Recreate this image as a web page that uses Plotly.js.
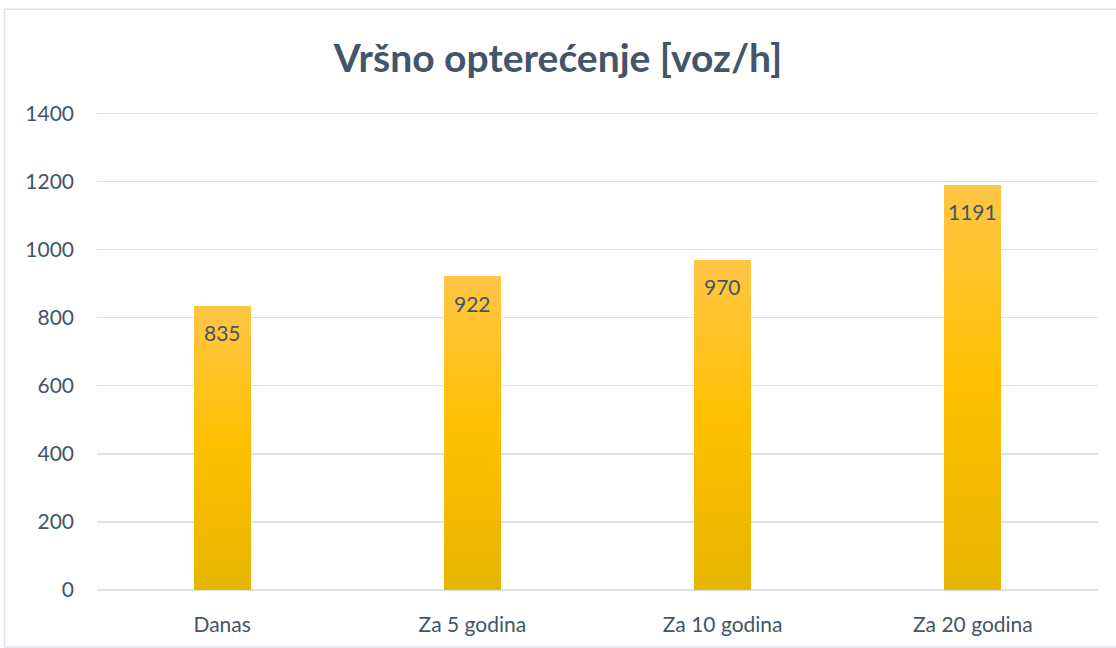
<!DOCTYPE html>
<html>
<head>
<meta charset="utf-8">
<script src="https://cdn.plot.ly/plotly-3.0.1.min.js"></script>
<style>html,body{margin:0;padding:0;background:#fff;}#chart{width:1116px;height:648px;}</style>
</head>
<body>
<div id="chart"></div>
<script>
const categories = ["Danas", "Za 5 godina", "Za 10 godina", "Za 20 godina"];
const values = [835, 922, 970, 1191];
const yTicks = [0, 200, 400, 600, 800, 1000, 1200, 1400];
const chartTitle = "Vršno opterećenje [voz/h]";

const fontFam = "Lato, 'Open Sans', sans-serif";
const textCol = "#44546A";
const gridCol = "#DEE1E6";

const trace = {
  type: "bar",
  x: categories,
  y: values,
  width: 0.228,
  marker: { color: "#FFC000", line: { width: 0 } },
  hoverinfo: "skip"
};

const annotations = categories.map((c, i) => ({
  x: c, y: values[i], xref: "x", yref: "y",
  text: String(values[i]), showarrow: false,
  yshift: -27, font: { family: fontFam, size: 21, color: textCol }
}));

const layout = {
  width: 1116, height: 648,
  margin: { l: 97, r: 18, t: 110, b: 58 },
  paper_bgcolor: "#fff", plot_bgcolor: "#fff",
  title: { text: "<b>" + chartTitle + "</b>", x: 0.5, xanchor: "center", y: 0.91, yanchor: "middle",
           font: { family: fontFam, size: 39, color: textCol } },
  showlegend: false,
  bargap: 0,
  xaxis: { type: "category", showgrid: false, showline: false, zeroline: false, ticks: "",
           tickfont: { family: fontFam, size: 21, color: textCol }, ticklabelstandoff: 20, fixedrange: true },
  yaxis: { range: [0, 1410], tickvals: yTicks, ticktext: yTicks.map(String), showgrid: true, gridcolor: gridCol, gridwidth: 1.5,
           zeroline: true, zerolinecolor: gridCol, zerolinewidth: 1.5, showline: false, ticks: "",
           tickfont: { family: fontFam, size: 21, color: textCol }, ticklabelstandoff: 22, fixedrange: true },
  annotations: annotations,
  shapes: [{ type: "rect", xref: "paper", yref: "paper", x0: -0.0925, x1: 1.05, y0: -0.119, y1: 1.21,
             line: { color: gridCol, width: 1.5 }, fillcolor: "rgba(0,0,0,0)", layer: "below" }]
};

Plotly.newPlot("chart", [trace], layout, { displayModeBar: false, staticPlot: true }).then(gd => {
  const svg = gd.querySelector("svg.main-svg");
  const ns = "http://www.w3.org/2000/svg";
  let defs = svg.querySelector("defs");
  if (!defs) { defs = document.createElementNS(ns, "defs"); svg.insertBefore(defs, svg.firstChild); }
  const g = document.createElementNS(ns, "linearGradient");
  g.setAttribute("id", "barGrad");
  g.setAttribute("x1", "0"); g.setAttribute("y1", "0"); g.setAttribute("x2", "0"); g.setAttribute("y2", "1");
  [["0", "#FFC545"], ["0.5", "#FFC000"], ["1", "#E6B400"]].forEach(([o, c]) => {
    const s = document.createElementNS(ns, "stop");
    s.setAttribute("offset", o); s.setAttribute("stop-color", c);
    g.appendChild(s);
  });
  defs.appendChild(g);
  gd.querySelectorAll(".barlayer .point path").forEach(p => { p.style.fill = "url(#barGrad)"; });
});
</script>
</body>
</html>
